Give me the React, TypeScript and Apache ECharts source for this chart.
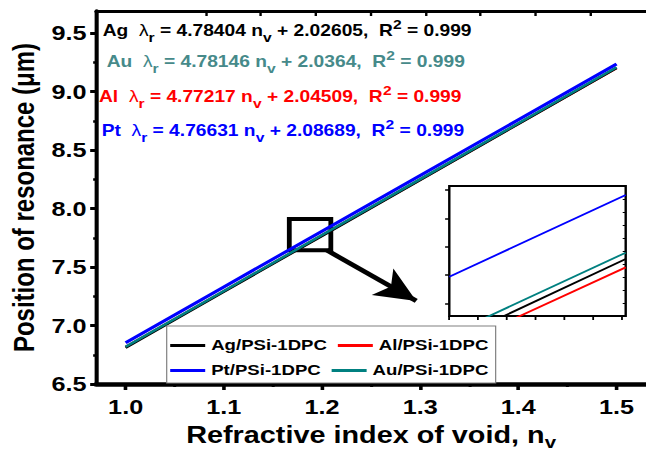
import React, { useEffect, useRef } from "react";
import * as echarts from "echarts";

// ---------- data ----------
const xValues = [1.0, 1.1, 1.2, 1.3, 1.4, 1.5];
const agValues = [6.81, 7.289, 7.767, 8.246, 8.724, 9.202];
const alValues = [6.817, 7.294, 7.771, 8.248, 8.726, 9.203];
const ptValues = [6.853, 7.33, 7.807, 8.283, 8.76, 9.237];
const auValues = [6.818, 7.296, 7.774, 8.252, 8.73, 9.209];

const seriesNames = ["Ag/PSi-1DPC", "Al/PSi-1DPC", "Pt/PSi-1DPC", "Au/PSi-1DPC"];

const xTickLabels = [1.0, 1.1, 1.2, 1.3, 1.4, 1.5];
const xMinorTicks = [1.05, 1.15, 1.25, 1.35, 1.45];
const yTickLabels = [6.5, 7.0, 7.5, 8.0, 8.5, 9.0, 9.5];
const yMinorTicks = [6.75, 7.25, 7.75, 8.25, 8.75, 9.25];
const topTicks = [2, 3, 4, 5, 6, 7, 8, 9];

// inset (zoomed view)
const insetX = [1.2, 1.21];
const insetPt = [7.8111, 7.8552];
const insetAu = [7.78, 7.8241];
const insetAg = [7.7762, 7.8207];
const insetAl = [7.7725, 7.8162];
const insetXTicks = [1.2, 1.20163, 1.20325, 1.20488, 1.20651, 1.20814, 1.20976];
const insetYTicks = [7.7968, 7.8121, 7.8273, 7.8426, 7.8578];
const insetRightTicks = [1, 2, 3, 4, 5, 6, 7, 8, 9];

// zoom box and arrow (data coordinates)
const zoomBoxFrom = [1.1667, 7.911];
const zoomBoxTo = [1.209, 7.644];
const arrowFrom = [1.2049, 7.644];
const arrowTo = [1.296, 7.21];

// fit equations
const eqMetals = ["Ag", "Au", "Al", "Pt"];
const eqSlopes = ["4.78404", "4.78146", "4.77217", "4.76631"];
const eqIntercepts = ["2.02605", "2.0364", "2.04509", "2.08689"];
const eqR2 = ["0.999", "0.999", "0.999", "0.999"];

const FONT = "'Liberation Sans', Arial, Helvetica, sans-serif";
const W = 538;
const S = 646 / W; // horizontal stretch of the whole figure

const colors: Record<string, string> = {
  "Ag/PSi-1DPC": "#000000",
  "Al/PSi-1DPC": "#ff0000",
  "Pt/PSi-1DPC": "#0000ff",
  "Au/PSi-1DPC": "#008080",
};
const eqColors = ["#000000", "#468a8a", "#ff0000", "#0000ff"];

const px = (v: number) => v / S;

export default function App() {
  const ref = useRef<HTMLDivElement>(null);
  useEffect(() => {
    if (!ref.current) return;
    const chart = echarts.init(ref.current, null, { renderer: "svg" });
    const pairs = (xs: number[], ys: number[]) => xs.map((x, i) => [x, ys[i]]);

    const mainSeries = [
      { name: "Al/PSi-1DPC", values: alValues, z: 2, w: 2.5 },
      { name: "Ag/PSi-1DPC", values: agValues, z: 3, w: 2.5 },
      { name: "Au/PSi-1DPC", values: auValues, z: 4, w: 2.5 },
      { name: "Pt/PSi-1DPC", values: ptValues, z: 5, w: 3 },
    ].map((s) => ({
      type: "line",
      name: s.name,
      xAxisIndex: 0,
      yAxisIndex: 0,
      data: pairs(xValues, s.values),
      symbol: "none",
      z: s.z,
      lineStyle: { color: colors[s.name], width: s.w },
      itemStyle: { color: colors[s.name] },
    }));

    // annotations attached to Pt series
    (mainSeries[3] as any).markArea = {
      silent: true,
      itemStyle: { color: "rgba(0,0,0,0)", borderColor: "#000", borderWidth: 4 },
      label: { show: false },
      data: [[{ coord: zoomBoxFrom }, { coord: zoomBoxTo }]],
    };
    (mainSeries[3] as any).markLine = {
      silent: true,
      symbol: ["none", "arrow"],
      symbolSize: [24, 34],
      label: { show: false },
      lineStyle: { color: "#000", width: 4.5, type: "solid" },
      emphasis: { disabled: true },
      data: [[{ coord: arrowFrom }, { coord: arrowTo }]],
    };

    const insetSeries = [
      { name: "Au inset", values: insetAu, color: colors["Au/PSi-1DPC"] },
      { name: "Ag inset", values: insetAg, color: colors["Ag/PSi-1DPC"] },
      { name: "Al inset", values: insetAl, color: colors["Al/PSi-1DPC"] },
      { name: "Pt inset", values: insetPt, color: colors["Pt/PSi-1DPC"] },
    ].map((s) => ({
      type: "line",
      name: s.name,
      xAxisIndex: 3,
      yAxisIndex: 2,
      data: pairs(insetX, s.values),
      symbol: "none",
      clip: true,
      z: 6,
      lineStyle: { color: s.color, width: 1.8 },
      itemStyle: { color: s.color },
    }));

    const hiddenLabel = { show: false };
    const noLine = { show: false, onZero: false };

    const eqGraphics = eqMetals.map((m, i) => ({
      type: "text",
      x: px([102.7, 106.7, 99, 101.7][i]),
      y: [31, 62, 96.5, 130.5][i],
      z: 10,
      style: {
        text: `{b|${m}  }{l|λ}{s|r}{b| = ${eqSlopes[i]} n}{s|v}{b| + ${eqIntercepts[i]},  R}{p|2}{b| = ${eqR2[i]}}`,
        fill: eqColors[i],
        verticalAlign: "middle",
        align: "left",
        fontFamily: FONT,
        fontWeight: "bold",
        fontSize: 16,
        rich: {
          b: { fontFamily: FONT, fontWeight: "bold", fontSize: 16, lineHeight: 26, fill: eqColors[i] },
          l: { fontFamily: FONT, fontWeight: "normal", fontSize: 16, fill: eqColors[i] },
          s: { fontFamily: FONT, fontWeight: "bold", fontSize: 13, verticalAlign: "bottom", fill: eqColors[i] },
          p: { fontFamily: FONT, fontWeight: "bold", fontSize: 13, verticalAlign: "top", fill: eqColors[i] },
        },
      },
    }));

    const option: any = {
      animation: false,
      backgroundColor: "#ffffff",
      textStyle: { fontFamily: FONT },
      grid: [
        { left: px(90.65), top: 11, width: px(563), height: 378, show: false },
        {
          left: px(449.3),
          top: 186,
          width: px(176.4),
          height: 130,
          show: true,
          borderColor: "#000",
          borderWidth: 2,
          backgroundColor: "#ffffff",
        },
      ],
      legend: {
        data: seriesNames.map((n) => ({ name: n, icon: "rect" })),
        left: px(166.7),
        top: 326,
        width: px(330),
        orient: "horizontal",
        itemWidth: px(35),
        itemHeight: 3,
        itemGap: 9,
        padding: [11.5, 6, 4.5, px(3.5)],
        borderColor: "#808080",
        borderWidth: 1,
        borderRadius: 0,
        backgroundColor: "#ffffff",
        selectedMode: false,
        textStyle: { fontFamily: FONT, fontWeight: "bold", fontSize: 15.5, color: "#000", width: 96 },
      },
      xAxis: [
        {
          type: "value",
          gridIndex: 0,
          min: 0.97,
          max: 1.53,
          position: "bottom",
          axisLine: { show: true, onZero: false, lineStyle: { color: "#000", width: 4.5 } },
          axisTick: {
            show: true,
            inside: false,
            length: 6,
            customValues: xTickLabels,
            lineStyle: { color: "#000", width: 3 },
          },
          axisLabel: {
            show: true,
            customValues: xTickLabels,
            margin: 12,
            fontFamily: FONT,
            fontWeight: "bold",
            fontSize: 21,
            color: "#000",
            formatter: (v: number) => v.toFixed(1),
          },
          splitLine: { show: false },
          name: "{a|Refractive index of void, n}{s|v}",
          nameLocation: "middle",
          nameGap: 35,
          nameTextStyle: {
            fontFamily: FONT,
            fontWeight: "bold",
            fontSize: 24,
            color: "#000",
            rich: {
              a: { fontFamily: FONT, fontWeight: "bold", fontSize: 24, color: "#000", lineHeight: 32 },
              s: { fontFamily: FONT, fontWeight: "bold", fontSize: 17, color: "#000", verticalAlign: "bottom" },
            },
          },
        },
        {
          type: "value",
          gridIndex: 0,
          min: 0.97,
          max: 1.53,
          position: "bottom",
          axisLine: noLine,
          axisTick: { show: true, length: 3, customValues: xMinorTicks, lineStyle: { color: "#000", width: 2.5 } },
          axisLabel: hiddenLabel,
          splitLine: { show: false },
        },
        {
          type: "value",
          gridIndex: 0,
          min: 0,
          max: 10.02,
          position: "top",
          axisLine: { show: true, onZero: false, lineStyle: { color: "#000", width: 3 } },
          axisTick: { show: true, inside: true, length: 5, customValues: topTicks, lineStyle: { color: "#000", width: 2 } },
          axisLabel: hiddenLabel,
          splitLine: { show: false },
        },
        {
          type: "value",
          gridIndex: 1,
          min: 1.2,
          max: 1.21,
          position: "bottom",
          axisLine: noLine,
          axisTick: { show: true, inside: false, length: 4, customValues: insetXTicks, lineStyle: { color: "#000", width: 1.5 } },
          axisLabel: hiddenLabel,
          splitLine: { show: false },
        },
      ],
      yAxis: [
        {
          type: "value",
          gridIndex: 0,
          min: 6.5,
          max: 9.69,
          position: "left",
          axisLine: { show: true, onZero: false, lineStyle: { color: "#000", width: 3.4 } },
          axisTick: {
            show: true,
            inside: false,
            length: 5,
            customValues: yTickLabels,
            lineStyle: { color: "#000", width: 3 },
          },
          axisLabel: {
            show: true,
            customValues: yTickLabels,
            margin: 8,
            fontFamily: FONT,
            fontWeight: "bold",
            fontSize: 21,
            color: "#000",
            formatter: (v: number) => v.toFixed(1),
          },
          splitLine: { show: false },
          name: "Position of resonance (μm)",
          nameLocation: "middle",
          nameGap: 44,
          nameTextStyle: { fontFamily: FONT, fontWeight: "bold", fontSize: 24, color: "#000" },
        },
        {
          type: "value",
          gridIndex: 0,
          min: 6.5,
          max: 9.69,
          position: "left",
          axisLine: noLine,
          axisTick: { show: true, length: 2.5, customValues: yMinorTicks, lineStyle: { color: "#000", width: 2.5 } },
          axisLabel: hiddenLabel,
          splitLine: { show: false },
        },
        {
          type: "value",
          gridIndex: 1,
          min: 7.79,
          max: 7.86,
          position: "left",
          axisLine: noLine,
          axisTick: { show: true, inside: false, length: 3.5, customValues: insetYTicks, lineStyle: { color: "#000", width: 1.5 } },
          axisLabel: hiddenLabel,
          splitLine: { show: false },
        },
        {
          type: "value",
          gridIndex: 1,
          min: 0,
          max: 10,
          position: "right",
          axisLine: noLine,
          axisTick: { show: true, inside: true, length: 2.5, customValues: insetRightTicks, lineStyle: { color: "#000", width: 1 } },
          axisLabel: hiddenLabel,
          splitLine: { show: false },
        },
      ],
      series: [...mainSeries, ...insetSeries],
      graphic: eqGraphics,
    };
    chart.setOption(option);
    return () => chart.dispose();
  }, []);

  return (
    <div
      ref={ref}
      style={{
        position: "fixed",
        left: 0,
        top: 0,
        width: W,
        height: 456,
        transform: `scaleX(${S})`,
        transformOrigin: "0 0",
        background: "#fff",
      }}
    />
  );
}
